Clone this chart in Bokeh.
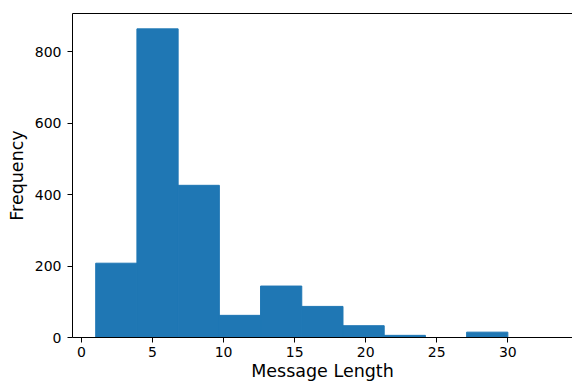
from bokeh.plotting import figure
from bokeh.models import ColumnDataSource, FixedTicker, LinearAxis, Range1d
from bokeh.embed import file_html
from bokeh.resources import INLINE

# Histogram data (10 bins)
bin_left = [1.0, 3.9, 6.8, 9.7, 12.6, 15.5, 18.4, 21.3, 24.2, 27.1]
bin_right = [3.9, 6.8, 9.7, 12.6, 15.5, 18.4, 21.3, 24.2, 27.1, 30.0]
counts = [208, 864, 426, 62, 144, 87, 33, 6, 0, 15]

x_ticks = [0, 5, 10, 15, 20, 25, 30]
y_ticks = [0, 200, 400, 600, 800]

x_title = "Message Length"
y_title = "Frequency"

FONT = "DejaVu Sans"
BLUE = "#1f77b4"

src = ColumnDataSource(dict(left=bin_left, right=bin_right, top=counts,
                            bottom=[0] * len(counts)))

p = figure(width=572, height=383, output_backend="svg", toolbar_location=None,
           x_range=Range1d(-0.633, 34.55), y_range=Range1d(0, 907),
           min_border_left=72, min_border_top=13, min_border_bottom=46,
           min_border_right=0)
p.quad(left="left", right="right", top="top", bottom="bottom", source=src,
       fill_color=BLUE, line_color=BLUE, line_width=1)

p.xgrid.grid_line_color = None
p.ygrid.grid_line_color = None
p.outline_line_color = None
p.background_fill_color = "white"
p.border_fill_color = "white"

for ax, ticks in ((p.xaxis[0], x_ticks), (p.yaxis[0], y_ticks)):
    ax.ticker = FixedTicker(ticks=ticks)
    ax.minor_tick_line_color = None
    ax.major_tick_in = 0
    ax.major_tick_out = 5
    ax.major_tick_line_color = "black"
    ax.axis_line_color = "black"
    ax.major_label_text_font = FONT
    ax.major_label_text_font_size = "14px"
    ax.major_label_text_color = "black"
    ax.axis_label_text_font = FONT
    ax.axis_label_text_font_size = "17.5px"
    ax.axis_label_text_font_style = "normal"
    ax.axis_label_text_color = "black"

p.xaxis[0].axis_label = x_title
p.xaxis[0].major_label_standoff = 4
p.xaxis[0].axis_label_standoff = 1
p.yaxis[0].axis_label = y_title
p.yaxis[0].major_label_standoff = 6
p.yaxis[0].axis_label_standoff = 5

top_axis = LinearAxis(major_tick_line_color=None, minor_tick_line_color=None,
                      major_label_text_font_size="0px", axis_line_color="black",
                      major_tick_in=0, major_tick_out=0, major_label_standoff=0)
top_axis.ticker = FixedTicker(ticks=[])
p.add_layout(top_axis, "above")

open("out.html", "w").write(file_html(p, INLINE))
